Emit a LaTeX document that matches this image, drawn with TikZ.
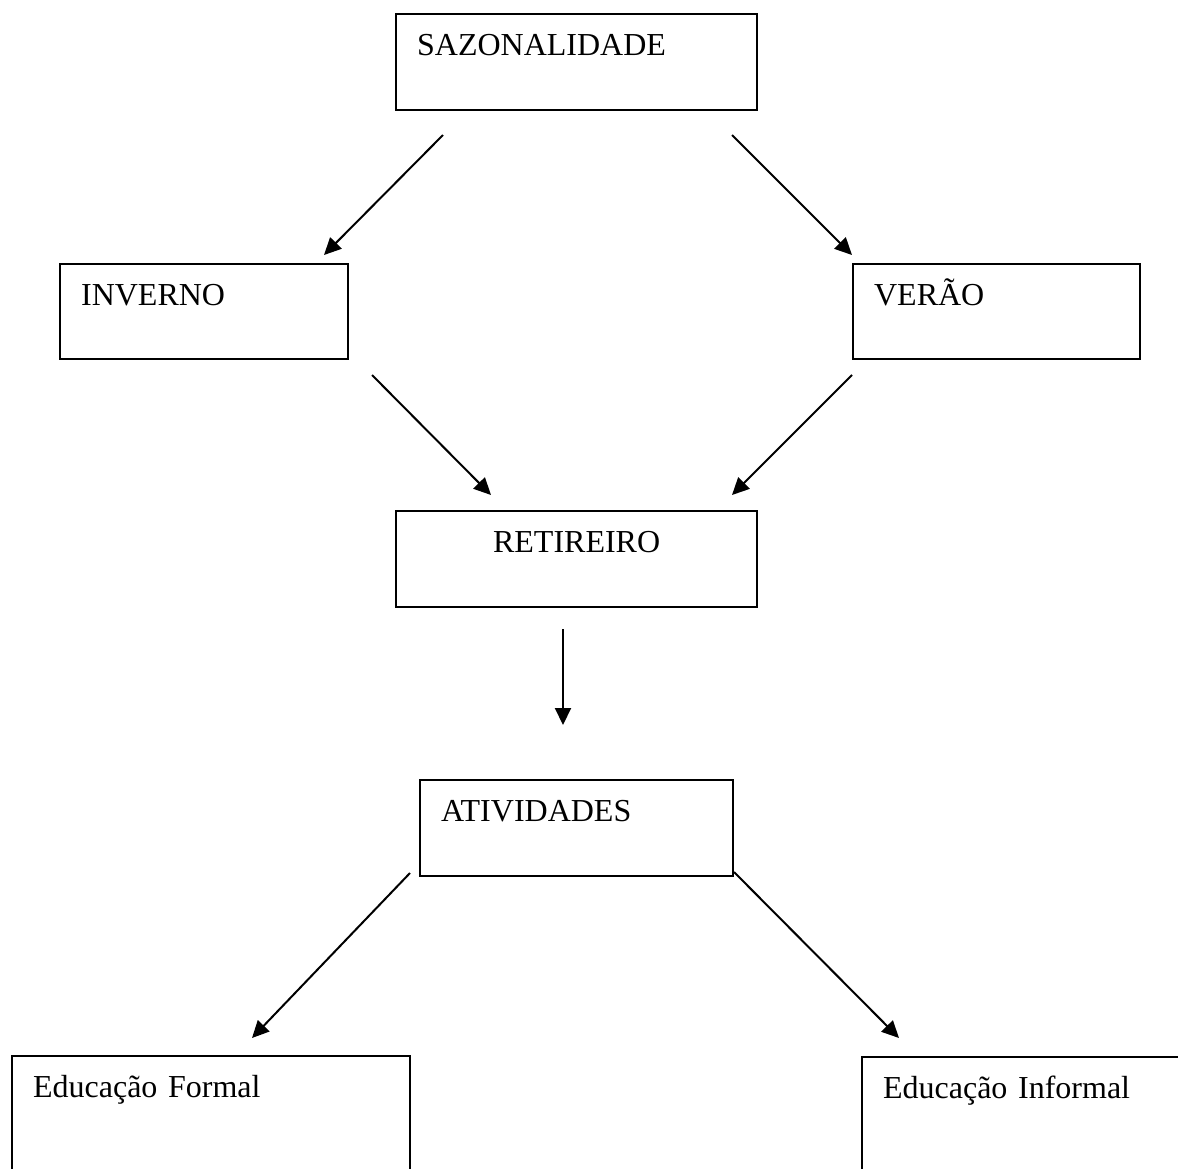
\documentclass[tikz,border=0pt]{standalone}
\usepackage{fontspec}
\setmainfont{Liberation Serif}
\usetikzlibrary{arrows.meta}
\tikzset{
  boxnode/.style n args={2}{draw, line width=2.2pt, rectangle, anchor=north west,
    inner ysep=0pt, inner xsep=21pt, text width=#1pt-42pt,
    text height=41pt, text depth=#2pt-41pt, align=left,
    font=\fontsize{32}{38}\selectfont},
  conn/.style={line width=2pt, -{Triangle[length=17pt,width=16pt]}}
}
\begin{document}
\begin{tikzpicture}[x=1pt,y=-1pt]
\clip (0,0) rectangle (1178,1168);
\fill[white] (0,0) rectangle (1178,1168);
\node[boxnode={361}{96}] (saz) at (395,13) {SAZONALIDADE};
\node[boxnode={288}{95}] (inv) at (59,263) {INVERNO};
\node[boxnode={287}{95}] (ver) at (852,263) {VERÃO};
\node[boxnode={361}{96}, align=center] (ret) at (395,510) {RETIREIRO};
\node[boxnode={313}{96}] (ati) at (419,779) {ATIVIDADES};
\node[boxnode={398}{150}] (ef) at (11,1055) {Educação Formal};
\node[boxnode={360}{150}] (ei) at (861,1056) {Educação Informal};
% connector end points
\coordinate (a1) at (443,135); \coordinate (b1) at (324,255);
\coordinate (a2) at (732,135); \coordinate (b2) at (852,255);
\coordinate (a3) at (372,375); \coordinate (b3) at (491,495);
\coordinate (a4) at (852,375); \coordinate (b4) at (732,495);
\coordinate (a5) at (563,629); \coordinate (b5) at (563,725);
\coordinate (a6) at (410,873); \coordinate (b6) at (252,1038);
\coordinate (a7) at (734,872); \coordinate (b7) at (899,1038);
\draw[conn] (a1) -- (b1);
\draw[conn] (a2) -- (b2);
\draw[conn] (a3) -- (b3);
\draw[conn] (a4) -- (b4);
\draw[conn] (a5) -- (b5);
\draw[conn] (a6) -- (b6);
\draw[conn] (a7) -- (b7);
\end{tikzpicture}
\end{document}
